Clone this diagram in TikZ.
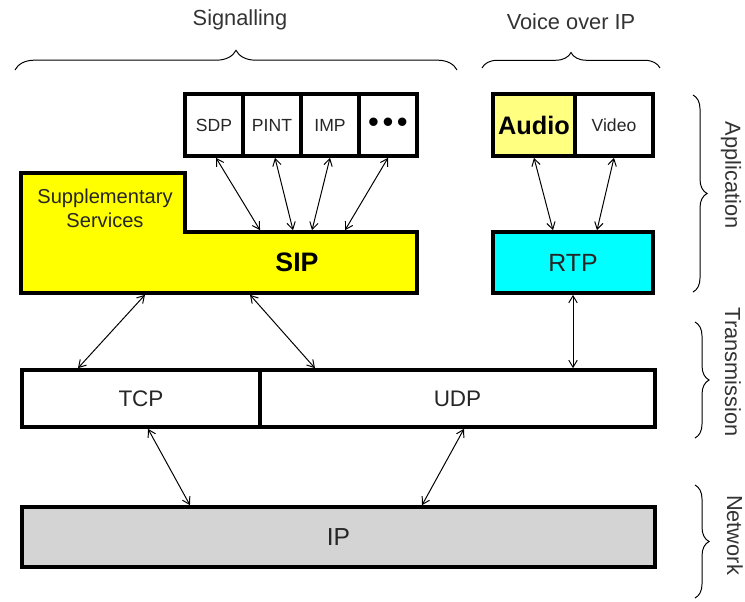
\documentclass[tikz,border=0pt]{standalone}
\usepackage{fontspec}
\setmainfont{Liberation Sans}
\usetikzlibrary{arrows.meta,calc,decorations.pathreplacing}
\definecolor{sipyellow}{RGB}{255,255,0}
\definecolor{audioyellow}{RGB}{255,255,128}
\definecolor{rtpcyan}{RGB}{0,255,255}
\definecolor{ipgray}{RGB}{212,212,212}

\begin{document}
\begin{tikzpicture}[x=0.025cm,y=-0.025cm,
	>={Straight Barb[length=5pt,width=6pt]},
	box/.style={draw,line width=2.6pt,inner sep=0pt,text=black!85},
	link/.style={<->,line width=0.7pt},
	curly/.style={decorate,decoration={brace,amplitude=#1},line width=0.7pt},
	layer/.style={font=\fontsize{15.5}{18}\selectfont,text=black!80}]
	\useasboundingbox (0,0) rectangle (745,601);

	% upper row
	\node[box,minimum width=1.45cm,minimum height=1.55cm,font=\fontsize{12.5}{15}\selectfont] (sdp) at (214,125) {SDP};
	\node[box,minimum width=1.45cm,minimum height=1.55cm,font=\fontsize{12.5}{15}\selectfont] (pint) at (272,125) {PINT};
	\node[box,minimum width=1.45cm,minimum height=1.55cm,font=\fontsize{12.5}{15}\selectfont] (imp) at (330,125) {IMP};
	\node[box,minimum width=1.45cm,minimum height=1.55cm,font=\fontsize{22}{22}\selectfont,text=black] (dots) at (388,125) {\raisebox{-2.5pt}{•\kern2.5pt•\kern2.5pt•}};
	\node[box,fill=audioyellow,minimum width=2.05cm,minimum height=1.55cm,font=\fontsize{18}{20}\selectfont\bfseries,text=black] (audio) at (534,125) {Audio};
	\node[box,minimum width=1.95cm,minimum height=1.55cm,font=\fontsize{12.5}{15}\selectfont] (video) at (614,125) {Video};

	% SIP with supplementary services
	\draw[line width=2.6pt,fill=sipyellow] (21,173) -- (185,173) -- (185,232) -- (417,232) -- (417,293) -- (21,293) -- cycle;
	\node[minimum width=9.9cm,minimum height=1.525cm,outer sep=1.3pt] (sipbar) at (219,262.5) {};
	\node[font=\fontsize{19}{22}\selectfont\bfseries] (sip) at (297,262) {SIP};
	\node[align=center,font=\fontsize{14.3}{17}\selectfont,text=black!85] (supp) at (105,208) {Supplementary\\Services};
	\node[box,fill=rtpcyan,minimum width=4cm,minimum height=1.525cm,font=\fontsize{17.7}{20}\selectfont] (rtp) at (573,262.5) {RTP};

	% transport and network
	\node[box,minimum width=5.95cm,minimum height=1.425cm,font=\fontsize{16}{18}\selectfont] (tcp) at (141,398.5) {TCP};
	\node[box,minimum width=9.875cm,minimum height=1.425cm,font=\fontsize{16}{18}\selectfont] (udp) at (457.5,398.5) {UDP};
	\node[box,fill=ipgray,minimum width=15.825cm,minimum height=1.5cm,font=\fontsize{17.5}{20}\selectfont] (ip) at (338.5,537) {IP};

	% layer labels
	\node[layer] (sig) at (240,20) {Signalling};
	\node[layer] (voip) at (571,22) {Voice over IP};
	\node[layer,rotate=-90] (app) at (731,175) {Application};
	\node[layer,rotate=-90] (trans) at (733,372) {Transmission};
	\node[layer,rotate=-90] (net) at (735,535) {Network};

	\draw[curly=14pt] (15,70) -- (457,70);
	\draw[curly=11pt] (482,68) -- (660,68);
	\draw[curly=10pt] (693,95) -- (693,292);
	\draw[curly=10pt] (695,322) -- (695,438);
	\draw[curly=10pt] (695,485) -- (695,598);

	\draw[link] ([xshift=0.05cm]sdp.south) -- ([xshift=1.025cm]sipbar.north);
	\draw[link] ([xshift=0.075cm]pint.south) -- ([xshift=1.85cm]sipbar.north);
	\draw[link] (imp.south) -- ([xshift=2.325cm]sipbar.north);
	\draw[link] (dots.south) -- ([xshift=3.15cm]sipbar.north);
	\draw[link] (audio.south) -- ([xshift=-0.5cm]rtp.north);
	\draw[link] (video.south) -- ([xshift=0.6cm]rtp.north);
	\draw[link] ([xshift=-1.85cm]sipbar.south) -- ([xshift=-1.575cm]tcp.north);
	\draw[link] ([xshift=0.775cm]sipbar.south) -- ([xshift=-3.5625cm]udp.north);
	\draw[link] (rtp.south) -- (rtp.south |- udp.north);
	\draw[link] ([xshift=0.175cm]tcp.south) -- ([xshift=-3.7125cm]ip.north);
	\draw[link] ([xshift=0.1625cm]udp.south) -- ([xshift=2.0875cm]ip.north);
\end{tikzpicture}
\end{document}
